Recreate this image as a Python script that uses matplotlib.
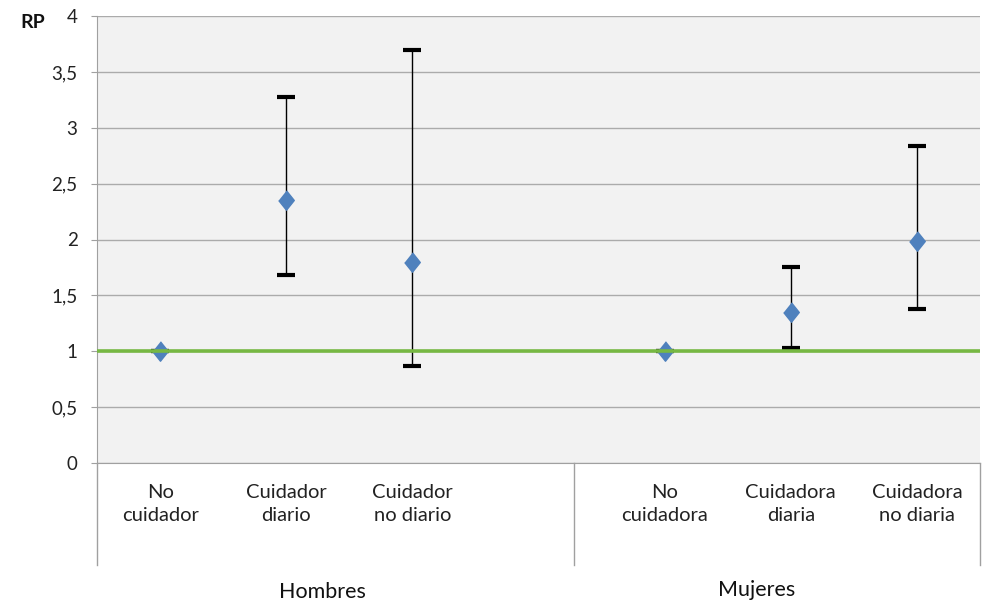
import numpy as np
import matplotlib
matplotlib.use("Agg")
import matplotlib.pyplot as plt
import matplotlib.transforms as mtransforms

plt.rcParams['font.family'] = ['Lato', 'DejaVu Sans']

# data
categorias = ["No\ncuidador", "Cuidador\ndiario", "Cuidador\nno diario", "",
              "No\ncuidadora", "Cuidadora\ndiaria", "Cuidadora\nno diaria"]
rp = [1.0, 2.35, 1.80, np.nan, 1.0, 1.35, 1.99]
ic_inf = [1.0, 1.68, 0.87, np.nan, 1.0, 1.03, 1.38]
ic_sup = [1.0, 3.275, 3.70, np.nan, 1.0, 1.755, 2.84]
grupos = ["Hombres", "Mujeres"]
yticks = [0, 0.5, 1, 1.5, 2, 2.5, 3, 3.5, 4]
ytick_labels = ["0", "0,5", "1", "1,5", "2", "2,5", "3", "3,5", "4"]

x = np.arange(len(categorias))
rp = np.array(rp)
lo = rp - np.array(ic_inf)
hi = np.array(ic_sup) - rp

fig = plt.figure(figsize=(9.89, 6.05), dpi=100)
ax = fig.add_axes([97/989, 1 - 463/605, (980-97)/989, (463-16)/605])
ax.set_facecolor('#F2F2F2')

ax.set_xlim(-0.5, len(categorias) - 0.5)
ax.set_ylim(0, 4)
ax.set_yticks(yticks)
ax.set_yticklabels(ytick_labels)
ax.yaxis.grid(True, color='#ABABAB', lw=1)
ax.set_axisbelow(True)

for s in ['top', 'right']:
    ax.spines[s].set_visible(False)
for s in ['left', 'bottom']:
    ax.spines[s].set_color('#A0A0A0')
ax.tick_params(axis='y', length=4, color='#A0A0A0', pad=10, labelsize=13.5, labelcolor='#222222')

ax.set_xticks(x)
ax.set_xticklabels(categorias)
ax.tick_params(axis='x', length=0, pad=15, labelsize=14.5, labelcolor='#222222')
for lbl in ax.get_xticklabels():
    lbl.set_linespacing(1.45)

# error bars with thick caps
ax.errorbar(x, rp, yerr=[lo, hi], fmt='none', ecolor='black', elinewidth=1,
            capsize=6.5, capthick=3, zorder=3)
diamond = [(0, 1), (0.8, 0), (0, -1), (-0.8, 0)]
ax.plot(x, rp, linestyle='none', marker=diamond, markersize=14,
        color='#4F81BD', zorder=4)

# reference line RP = 1
ax.axhline(1, color='#77B843', lw=2.6, zorder=5)

# category group separators below the axis
trans = mtransforms.blended_transform_factory(ax.transData, ax.transAxes)
sep_y = -(565 - 463) / 447
for xs in [-0.5, 3.28, 6.5]:
    ax.plot([xs, xs], [0, sep_y], transform=trans, color='#A0A0A0', lw=1, clip_on=False)

ax.text(1.29, -(592 - 463) / 447, grupos[0], transform=trans, ha='center', va='center',
        fontsize=15.5, color='#111111')
ax.text(4.73, -(590 - 463) / 447, grupos[1], transform=trans, ha='center', va='center',
        fontsize=15.5, color='#111111')

fig.text(33/989, 1 - 23/605, "RP", ha='center', va='center', fontsize=14,
         fontweight='bold', color='#111111')

fig.savefig("out.png", dpi=100)
